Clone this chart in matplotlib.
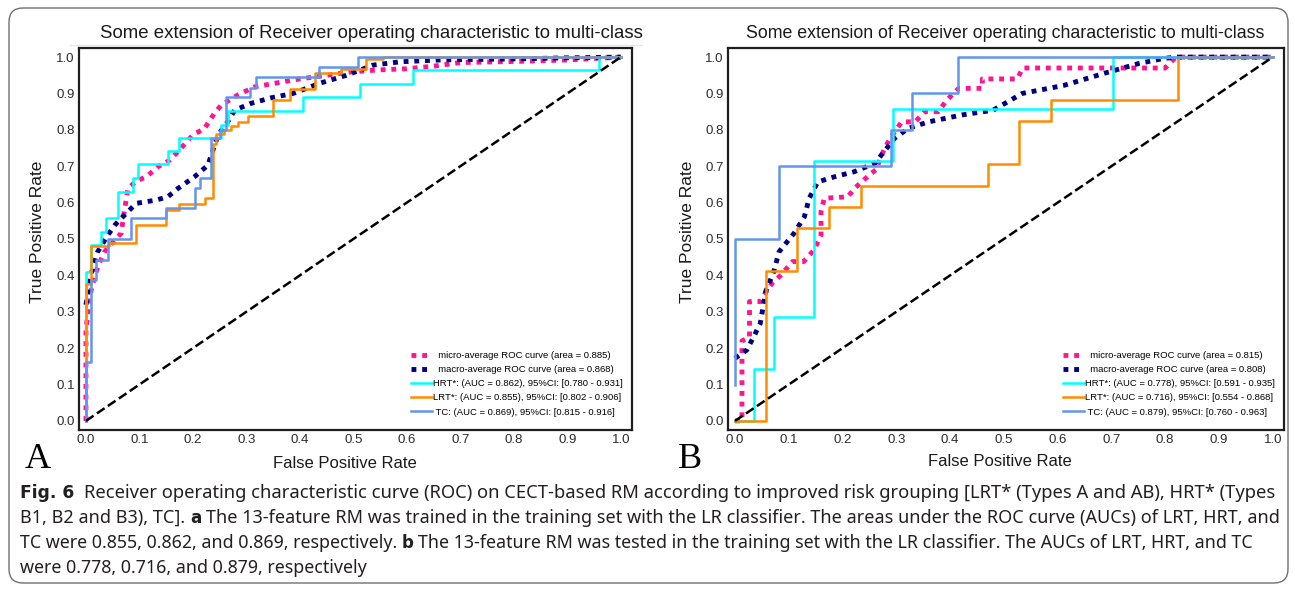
import numpy as np
import matplotlib
matplotlib.use("Agg")
import matplotlib.pyplot as plt
from matplotlib.patches import FancyBboxPatch
from matplotlib.transforms import IdentityTransform
from matplotlib.font_manager import FontProperties

# ---------- data ----------
# Panel A (training set)
a_micro_fpr = [0, 0, 0.007, 0.013, 0.022, 0.035, 0.054, 0.066, 0.07, 0.0785, 0.095, 0.113, 0.135, 0.155,
               0.172, 0.2, 0.222, 0.24, 0.253, 0.284, 0.315, 0.353, 0.4, 0.45, 0.5, 0.55, 0.6, 0.65, 0.7,
               0.8, 0.9, 1.0]
a_micro_tpr = [0, 0.25, 0.341, 0.378, 0.424, 0.465, 0.497, 0.516, 0.56, 0.639, 0.66, 0.671, 0.699, 0.715,
               0.74, 0.786, 0.804, 0.845, 0.868, 0.896, 0.918, 0.928, 0.94, 0.95, 0.96, 0.965, 0.968, 0.975,
               0.985, 0.988, 0.992, 1.0]
a_macro_fpr = [0, 0.01, 0.022, 0.041, 0.054, 0.06, 0.094, 0.131, 0.153, 0.172, 0.203, 0.228, 0.247, 0.265,
               0.278, 0.309, 0.346, 0.387, 0.437, 0.487, 0.537, 0.587, 0.66, 0.8, 0.9, 1.0]
a_macro_tpr = [0.319, 0.406, 0.465, 0.511, 0.538, 0.548, 0.598, 0.607, 0.616, 0.639, 0.671, 0.703, 0.786,
               0.822, 0.854, 0.873, 0.888, 0.9, 0.928, 0.95, 0.978, 0.987, 0.992, 0.995, 0.998, 1.0]
a_hrt_fpr = [0, 0, 0.01, 0.01, 0.029, 0.029, 0.038, 0.038, 0.06, 0.06, 0.088, 0.088, 0.097, 0.097, 0.153,
             0.153, 0.174, 0.174, 0.253, 0.253, 0.265, 0.265, 0.406, 0.406, 0.512, 0.512, 0.612, 0.612,
             0.959, 0.959, 1.0]
a_hrt_tpr = [0, 0.41, 0.41, 0.484, 0.484, 0.52, 0.52, 0.557, 0.557, 0.63, 0.63, 0.667, 0.667, 0.705, 0.705,
             0.742, 0.742, 0.778, 0.778, 0.813, 0.813, 0.852, 0.852, 0.891, 0.891, 0.926, 0.926, 0.964,
             0.964, 1.0, 1.0]
a_lrt_fpr = [0, 0, 0.01, 0.01, 0.043, 0.043, 0.094, 0.094, 0.15, 0.15, 0.174, 0.174, 0.222, 0.222, 0.237,
             0.237, 0.243, 0.243, 0.258, 0.258, 0.272, 0.272, 0.284, 0.284, 0.303, 0.303, 0.349, 0.349,
             0.381, 0.381, 0.428, 0.428, 0.477, 0.477, 0.523, 0.523, 0.555, 0.555, 1.0]
a_lrt_tpr = [0, 0.375, 0.375, 0.48, 0.48, 0.49, 0.49, 0.538, 0.538, 0.58, 0.58, 0.595, 0.595, 0.612, 0.612,
             0.76, 0.76, 0.788, 0.788, 0.80, 0.80, 0.81, 0.81, 0.822, 0.822, 0.838, 0.838, 0.882, 0.882,
             0.912, 0.912, 0.955, 0.955, 0.966, 0.966, 0.994, 0.994, 1.0, 1.0]
a_tc_fpr = [0, 0, 0.01, 0.01, 0.019, 0.019, 0.041, 0.041, 0.085, 0.085, 0.15, 0.15, 0.203, 0.203, 0.214,
            0.214, 0.234, 0.234, 0.25, 0.25, 0.262, 0.262, 0.306, 0.306, 0.318, 0.318, 0.436, 0.436, 0.509,
            0.509, 1.0]
a_tc_tpr = [0, 0.163, 0.163, 0.387, 0.387, 0.442, 0.442, 0.50, 0.50, 0.557, 0.557, 0.584, 0.584, 0.639,
            0.639, 0.667, 0.667, 0.777, 0.777, 0.80, 0.80, 0.891, 0.891, 0.916, 0.916, 0.946, 0.946, 0.972,
            0.972, 1.0, 1.0]
a_labels = ["  micro-average ROC curve (area = 0.885)",
            "  macro-average ROC curve (area = 0.868)",
            "HRT*: (AUC = 0.862), 95%CI: [0.780 - 0.931]",
            "LRT*: (AUC = 0.855), 95%CI: [0.802 - 0.906]",
            " TC: (AUC = 0.869), 95%CI: [0.815 - 0.916]"]

# Panel B (test)
b_micro_fpr = [0.0, 0.013, 0.013, 0.027, 0.027, 0.047, 0.06, 0.07, 0.085, 0.107, 0.128, 0.147, 0.16, 0.16,
               0.166, 0.21, 0.222, 0.253, 0.262, 0.278, 0.29, 0.31, 0.335, 0.353, 0.378, 0.394, 0.416, 0.46,
               0.46, 0.525, 0.535, 0.80, 0.82, 1.0]
b_micro_tpr = [0.0, 0.0, 0.22, 0.23, 0.328, 0.328, 0.36, 0.38, 0.40, 0.438, 0.438, 0.47, 0.51, 0.575, 0.612,
               0.616, 0.639, 0.68, 0.69, 0.749, 0.78, 0.822, 0.822, 0.85, 0.85, 0.882, 0.914, 0.914, 0.94,
               0.94, 0.97, 0.97, 1.0, 1.0]
b_macro_fpr = [0, 0.022, 0.035, 0.047, 0.057, 0.072, 0.082, 0.11, 0.129, 0.138, 0.154, 0.185, 0.222, 0.26,
               0.297, 0.322, 0.36, 0.422, 0.48, 0.534, 0.611, 0.688, 0.75, 0.796, 0.82, 1.0]
b_macro_tpr = [0.172, 0.195, 0.232, 0.268, 0.355, 0.41, 0.465, 0.516, 0.561, 0.612, 0.657, 0.671, 0.685,
               0.708, 0.777, 0.804, 0.822, 0.841, 0.854, 0.9, 0.922, 0.956, 0.982, 0.996, 1.0, 1.0]
b_hrt_fpr = [0, 0.035, 0.035, 0.072, 0.072, 0.147, 0.147, 0.294, 0.294, 0.703, 0.703, 1.0]
b_hrt_tpr = [0, 0, 0.143, 0.143, 0.286, 0.286, 0.714, 0.714, 0.857, 0.857, 1.0, 1.0]
b_lrt_fpr = [0, 0.057, 0.057, 0.116, 0.116, 0.174, 0.174, 0.235, 0.235, 0.471, 0.471, 0.529, 0.529, 0.588,
             0.588, 0.824, 0.824, 1.0]
b_lrt_tpr = [0, 0, 0.412, 0.412, 0.529, 0.529, 0.588, 0.588, 0.647, 0.647, 0.706, 0.706, 0.824, 0.824,
             0.882, 0.882, 1.0, 1.0]
b_tc_fpr = [0, 0, 0.082, 0.082, 0.291, 0.291, 0.33, 0.33, 0.414, 0.414, 1.0]
b_tc_tpr = [0.1, 0.5, 0.5, 0.7, 0.7, 0.8, 0.8, 0.9, 0.9, 1.0, 1.0]
b_labels = ["  micro-average ROC curve (area = 0.815)",
            "  macro-average ROC curve (area = 0.808)",
            "HRT*: (AUC = 0.778), 95%CI: [0.591 - 0.935]",
            "LRT*: (AUC = 0.716), 95%CI: [0.554 - 0.868]",
            " TC: (AUC = 0.879), 95%CI: [0.760 - 0.963]"]

TITLE = "Some extension of Receiver operating characteristic to multi-class"
TICKS = np.round(np.arange(0, 1.01, 0.1), 1)

CAPTION = [
    [("Fig. 6", True, 2), ("Receiver operating characteristic curve (ROC) on CECT-based RM according to "
                            "improved risk grouping [LRT* (Types A and AB), HRT* (Types", False, 0)],
    [("B1, B2 and B3), TC].", False, 1), ("a", True, 1),
     ("The 13-feature RM was trained in the training set with the LR classifier. The areas under the "
      "ROC curve (AUCs) of LRT, HRT, and", False, 0)],
    [("TC were 0.855, 0.862, and 0.869, respectively.", False, 1), ("b", True, 1),
     ("The 13-feature RM was tested in the training set with the LR classifier. The AUCs of LRT, HRT, "
      "and TC", False, 0)],
    [("were 0.778, 0.716, and 0.879, respectively", False, 0)],
]
CAPTION_WIDTHS = [1256, 1256, 1236, None]

# ---------- figure ----------
plt.rcParams["font.family"] = ["Liberation Sans", "DejaVu Sans"]
W, H = 1295, 590
fig = plt.figure(figsize=(W / 100, H / 100), dpi=100)
renderer = fig.canvas.get_renderer()


def fx(x):
    return x / W


def fy(y):
    return 1 - y / H


def width_px(s, prop):
    return renderer.get_text_width_height_descent(s, prop, ismath=False)[0]


def fit_text(t, target):
    w = t.get_window_extent(renderer).width
    t.set_fontsize(t.get_fontsize() * target / w)


def draw_panel(ax, series, labels):
    (mi_f, mi_t), (ma_f, ma_t), (h_f, h_t), (l_f, l_t), (c_f, c_t) = series
    ax.plot(mi_f, mi_t, color="deeppink", linestyle=(0, (1, 1.2)), lw=3.5, label=labels[0])
    ax.plot(ma_f, ma_t, color="navy", linestyle=(0, (1, 1.2)), lw=3.5, label=labels[1])
    ax.plot(h_f, h_t, color="aqua", lw=1.8, label=labels[2])
    ax.plot(l_f, l_t, color="darkorange", lw=1.8, label=labels[3])
    ax.plot(c_f, c_t, color="cornflowerblue", lw=1.8, label=labels[4])
    ax.plot([0, 1], [0, 1], "k--", lw=1.8)
    ax.set_xlim(-0.013, 1.021)
    ax.set_ylim(-0.025, 1.025)
    ax.set_xticks(TICKS)
    ax.set_yticks(TICKS)
    ax.set_xticklabels([f"{t:.1f}" for t in TICKS])
    ax.set_yticklabels([f"{t:.1f}" for t in TICKS])
    ax.tick_params(length=0, labelsize=9.5, labelcolor="#2b2b2b", pad=3)
    for sp in ax.spines.values():
        sp.set_linewidth(1.6)
        sp.set_color("#1e1e1e")
    ax.legend(loc="lower right", bbox_to_anchor=(0.99, 0.025), frameon=False, fontsize=6.8,
              handlelength=2.2, handletextpad=0.1, labelspacing=0.55, borderaxespad=0)


axA = fig.add_axes([fx(79), fy(430), (632 - 79) / W, (430 - 48) / H])
draw_panel(axA, [(a_micro_fpr, a_micro_tpr), (a_macro_fpr, a_macro_tpr), (a_hrt_fpr, a_hrt_tpr),
                 (a_lrt_fpr, a_lrt_tpr), (a_tc_fpr, a_tc_tpr)], a_labels)
axB = fig.add_axes([fx(728), fy(430), (1284 - 728) / W, (430 - 48) / H])
draw_panel(axB, [(b_micro_fpr, b_micro_tpr), (b_macro_fpr, b_macro_tpr), (b_hrt_fpr, b_hrt_tpr),
                 (b_lrt_fpr, b_lrt_tpr), (b_tc_fpr, b_tc_tpr)], b_labels)

# titles, axis labels, panel letters
for cx, target in [(371, 548), (1005, 520)]:
    t = fig.text(fx(cx), fy(33), TITLE, ha="center", va="center", fontsize=12, color="#1a1a1a")
    fit_text(t, target)
fig.add_artist(plt.Line2D([fx(70), fx(642)], [fy(45), fy(45)], color="#e6e6e6", lw=1))

for cx, cy in [(345, 463), (1000, 461)]:
    fig.text(fx(cx), fy(cy), "False Positive Rate", ha="center", va="center", fontsize=12, color="#1a1a1a")
for cx in [38, 688]:
    fig.text(fx(cx), fy(232), "True Positive Rate", ha="center", va="center", rotation=90,
             fontsize=12.5, color="#1a1a1a")
for cx, letter in [(38, "A"), (690, "B")]:
    fig.text(fx(cx), fy(459), letter, ha="center", va="center", fontsize=26,
             family=["Liberation Serif", "DejaVu Serif"], color="black")

# caption: each full line is stretched to the text block width
cap_reg = FontProperties(family=["Noto Sans", "DejaVu Sans"], size=10)
cap_bold = FontProperties(family=["DejaVu Sans"], weight="bold", size=10)
BOLD_SCALE = 0.93


def caption_props(size):
    reg, bld = cap_reg.copy(), cap_bold.copy()
    reg.set_size(size)
    bld.set_size(size * BOLD_SCALE)
    return reg, bld


def line_width(segments, size):
    reg, bld = caption_props(size)
    sp = width_px("a a", reg) - width_px("aa", reg)
    total = sum(width_px(text, bld if b else reg) + g * sp for text, b, g in segments)
    return total, sp


size = 10
for i, segments in enumerate(CAPTION):
    if CAPTION_WIDTHS[i]:
        size = 10 * CAPTION_WIDTHS[i] / line_width(segments, 10)[0]
    reg, bld = caption_props(size)
    _, sp = line_width(segments, size)
    x = 20
    y = 493 + 25 * i
    for text, is_bold, gaps in segments:
        prop = bld if is_bold else reg
        fig.text(fx(x), fy(y), text, fontproperties=prop, ha="left", va="center", color="#231f20")
        x += width_px(text, prop) + gaps * sp

# rounded frame around the whole figure
frame = FancyBboxPatch((9, 7), 1279, 575, boxstyle="round,pad=0,rounding_size=14",
                       transform=IdentityTransform(), fill=False, edgecolor="#707070", lw=1)
fig.add_artist(frame)

fig.savefig("out.png", dpi=100)
plt.close(fig)
